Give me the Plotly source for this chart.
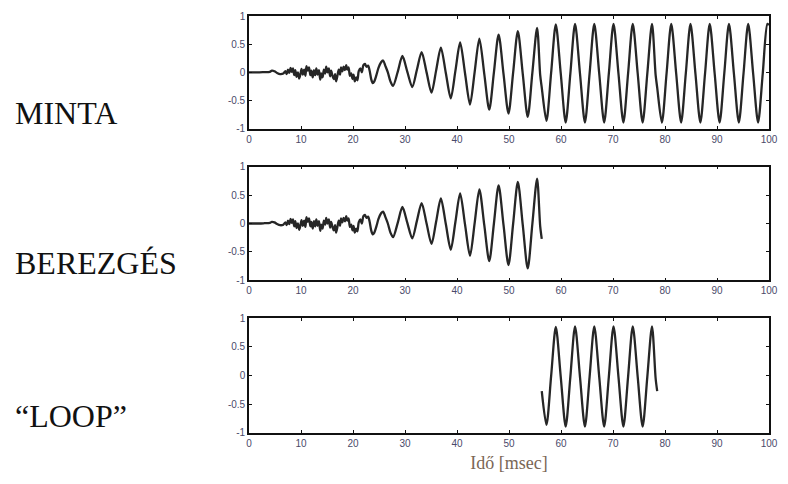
import plotly.graph_objects as go
from plotly.subplots import make_subplots

# ---- data (time in ms, normalised amplitude) ----
minta_t = [0, 1, 2, 3, 4, 4.4, 4.9, 5.4, 6.0, 6.6, 7.0, 7.25, 7.5, 7.75, 8.0, 8.2, 8.45, 8.7,
           8.9, 9.15, 9.4, 9.65, 9.9, 10.1, 10.35, 10.6, 10.85, 11.05, 11.3, 11.55, 11.8, 12.0,
           12.25, 12.5, 12.75, 12.95, 13.2, 13.45, 13.7, 13.9, 14.15, 14.4, 14.65, 14.85, 15.1,
           15.35, 15.6, 15.8, 16.05, 16.3, 16.55, 16.75, 17.0, 17.25, 17.5, 17.7, 17.95, 18.2,
           18.45, 18.7, 18.9, 19.15, 19.4, 19.65, 19.9, 20.1, 20.35, 20.6, 20.85, 21.1, 21.4,
           21.7, 22.0, 22.3, 22.6, 22.9, 23.2, 23.5, 23.8, 24.1, 24.5, 24.9, 25.4, 25.8, 26.2,
           26.7, 27.2, 27.7,
           28.6, 29.5, 30.45, 31.4, 32.3, 33.2, 34.15, 35.1, 36.0, 36.9, 37.85, 38.8, 39.7,
           40.6, 41.55, 42.5, 43.4, 44.3, 45.25, 46.2, 47.1, 48.0, 48.95, 49.9, 50.8, 51.7,
           52.65, 53.6, 54.5, 55.4, 56.0, 56.3, 57.2, 58.1, 59.0, 59.95, 60.9, 61.8, 62.7,
           63.65, 64.6, 65.5, 66.4, 67.35, 68.3, 69.2, 70.1, 71.05, 72.0, 72.9, 73.8, 74.75,
           75.7, 76.6, 77.5, 78.2, 78.5, 79.4, 80.3, 81.2, 82.15, 83.1, 84.0, 84.9, 85.85,
           86.8, 87.7, 88.6, 89.55, 90.5, 91.4, 92.3, 93.25, 94.2, 95.1, 96.0, 96.95, 97.9,
           98.8, 99.7, 100]
minta_y = [0.0, 0.0, 0.0, 0.005, 0.01, 0.03, 0.02, -0.01, -0.03, -0.02, 0.02, -0.03, 0.05, -0.01,
           0.08, 0.01, 0.07, -0.05, 0.04, -0.08, 0.0, -0.11, -0.03, 0.06, -0.04, 0.05, -0.06,
           0.11, 0.03, 0.09, -0.05, 0.03, -0.09, 0.04, -0.05, 0.07, -0.04, 0.04, -0.13, -0.02,
           -0.09, 0.05, -0.02, 0.1, 0.0, 0.07, -0.07, 0.03, -0.06, -0.12, -0.03, -0.16, -0.06,
           0.05, -0.04, 0.09, 0.02, 0.1, 0.04, 0.13, 0.05, 0.09, -0.06, -0.02, -0.12, -0.04,
           -0.16, -0.09, -0.14, 0.02, 0.07, 0.0, 0.13, 0.15, 0.1, 0.12, 0.03, -0.12, -0.19,
           -0.16, -0.05, 0.08, 0.18, 0.21, 0.12, 0.0, -0.16, -0.24,
           0.01, 0.29, 0.01, -0.26, 0.05, 0.36, 0.0, -0.36, 0.04, 0.44, -0.01, -0.46, 0.03,
           0.53, -0.02, -0.57, 0.01, 0.60, -0.03, -0.66, 0.0, 0.67, -0.03, -0.73, 0.0, 0.73,
           -0.03, -0.79, 0.0, 0.79, -0.05, -0.27, -0.86, -0.01, 0.85, -0.02, -0.89, -0.02, 0.86,
           -0.02, -0.89, -0.02, 0.86, -0.02, -0.89, -0.02, 0.86, -0.02, -0.89, -0.02, 0.86,
           -0.02, -0.89, -0.02, 0.86, -0.05, -0.27, -0.89, -0.02, 0.86, -0.02, -0.89, -0.02,
           0.86, -0.02, -0.89, -0.02, 0.86, -0.02, -0.89, -0.02, 0.86, -0.02, -0.89, -0.02,
           0.86, -0.02, -0.89, -0.02, 0.86, 0.84]

berezges_end = 56.3   # where the "BEREZGÉS" record stops
loop_start = 56.3     # loop segment start
loop_end = 78.5       # loop segment end

row_labels = ["MINTA", "BEREZGÉS", "\u201cLOOP\u201d"]
x_ticks = [0, 10, 20, 30, 40, 50, 60, 70, 80, 90, 100]
y_ticks = [-1, -0.5, 0, 0.5, 1]
y_tick_text = ["-1", "-0.5", "0", "0.5", "1"]
x_title = "Idő [msec]"

berez_t = [t for t in minta_t if t <= berezges_end]
berez_y = [y for t, y in zip(minta_t, minta_y) if t <= berezges_end]
loop_t = [t for t in minta_t if loop_start <= t <= loop_end]
loop_y = [y for t, y in zip(minta_t, minta_y) if loop_start <= t <= loop_end]

series = [(minta_t, minta_y), (berez_t, berez_y), (loop_t, loop_y)]

W, H = 788, 484
ml, mr, mt, mb = 249, 10, 15, 51
fig = make_subplots(rows=3, cols=1, vertical_spacing=0.0)
plot_h = H - mt - mb
boxes = [(15, 128), (166, 280), (318, 433)]
label_y = [112, 263, 416]
serif = "Liberation Serif, Times New Roman, serif"
for i, (tt, yy) in enumerate(series):
    r = i + 1
    fig.add_trace(go.Scatter(x=tt, y=yy, mode="lines",
                             line=dict(color="#262626", width=2.3, shape="spline", smoothing=0.8),
                             showlegend=False, hoverinfo="skip"), row=r, col=1)
    top, bot = boxes[i]
    fig.update_yaxes(domain=[(H - mb - bot) / plot_h, (H - mb - top) / plot_h], row=r, col=1)
    fig.add_annotation(text=row_labels[i], xref="paper", yref="paper",
                       x=(9 - ml) / (W - ml - mr), xanchor="left",
                       y=(H - mb - label_y[i]) / plot_h, yanchor="middle",
                       showarrow=False, font=dict(family=serif, size=32, color="#111"))

axis_common = dict(showline=True, linecolor="#111", linewidth=1.6, mirror="ticks",
                   ticks="inside", ticklen=3, tickwidth=1, tickcolor="#111",
                   showgrid=False, zeroline=False,
                   tickfont=dict(family="Liberation Sans, Arial, sans-serif", size=10, color="#4a4a6a"))
fig.update_xaxes(range=[0, 100], tickvals=x_ticks, **axis_common)
fig.update_yaxes(range=[-1, 1], tickvals=y_ticks, ticktext=y_tick_text, **axis_common)
fig.update_xaxes(title=dict(text=x_title, standoff=9,
                            font=dict(family=serif, size=18, color="#7a6655")),
                 row=3, col=1)

fig.update_layout(width=W, height=H, margin=dict(l=ml, r=mr, t=mt, b=mb),
                  paper_bgcolor="white", plot_bgcolor="white")
fig.write_html("out.html")
